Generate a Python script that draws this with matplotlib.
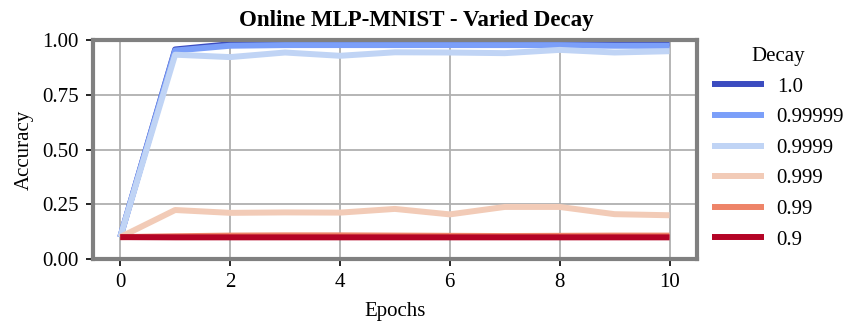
import numpy as np
import matplotlib
matplotlib.use("Agg")
import matplotlib.pyplot as plt

plt.rcParams['font.family'] = ['Liberation Serif', 'DejaVu Serif']

epochs = list(range(11))
decays = ["1.0", "0.99999", "0.9999", "0.999", "0.99", "0.9"]

acc_1_0 = [0.10, 0.958, 0.982, 0.985, 0.985, 0.985, 0.985, 0.985, 0.985, 0.985, 0.985]
acc_0_99999 = [0.10, 0.953, 0.975, 0.978, 0.978, 0.978, 0.978, 0.978, 0.978, 0.975, 0.975]
acc_0_9999 = [0.10, 0.934, 0.923, 0.944, 0.929, 0.945, 0.944, 0.941, 0.956, 0.944, 0.950]
acc_0_999 = [0.10, 0.224, 0.211, 0.213, 0.212, 0.229, 0.204, 0.238, 0.238, 0.205, 0.200]
acc_0_99 = [0.10, 0.104, 0.107, 0.108, 0.108, 0.107, 0.106, 0.105, 0.106, 0.107, 0.107]
acc_0_9 = [0.10, 0.099, 0.099, 0.099, 0.099, 0.099, 0.099, 0.099, 0.099, 0.099, 0.099]

series = [acc_1_0, acc_0_99999, acc_0_9999, acc_0_999, acc_0_99, acc_0_9]
colors = plt.cm.coolwarm(np.linspace(0, 1, len(decays)))

fig = plt.figure(figsize=(8.51, 3.26), dpi=100)
ax = fig.add_axes([0.109, 0.2055, 0.710, 0.671])

for label, vals, c in zip(decays, series, colors):
    ax.plot(epochs, vals, color=c, lw=4.3, label=label, solid_capstyle='butt')

ax.set_xlim(-0.5, 10.5)
ax.set_ylim(0, 1.0)
ax.set_xticks([0, 2, 4, 6, 8, 10])
ax.set_yticks([0.0, 0.25, 0.5, 0.75, 1.0])
ax.set_yticklabels(["0.00", "0.25", "0.50", "0.75", "1.00"])
ax.tick_params(labelsize=15, length=5, width=1.2, color='black', pad=5)
ax.grid(True, color='#b0b0b0', lw=1.3)
ax.set_axisbelow(True)
for sp in ax.spines.values():
    sp.set_color('#808080')
    sp.set_linewidth(3)

ax.set_xlabel("Epochs", fontsize=15, labelpad=7)
ax.set_ylabel("Accuracy", fontsize=15, labelpad=6)
ax.set_title("Online MLP-MNIST - Varied Decay", fontsize=16.5, fontweight='bold',
             x=0.535, pad=10)

leg = ax.legend(title="Decay", loc='upper left', bbox_to_anchor=(0.994, 1.055),
                frameon=False, fontsize=15, title_fontsize=15,
                handlelength=2.5, labelspacing=0.53, handletextpad=0.6)

fig.savefig("out.png", dpi=100)
